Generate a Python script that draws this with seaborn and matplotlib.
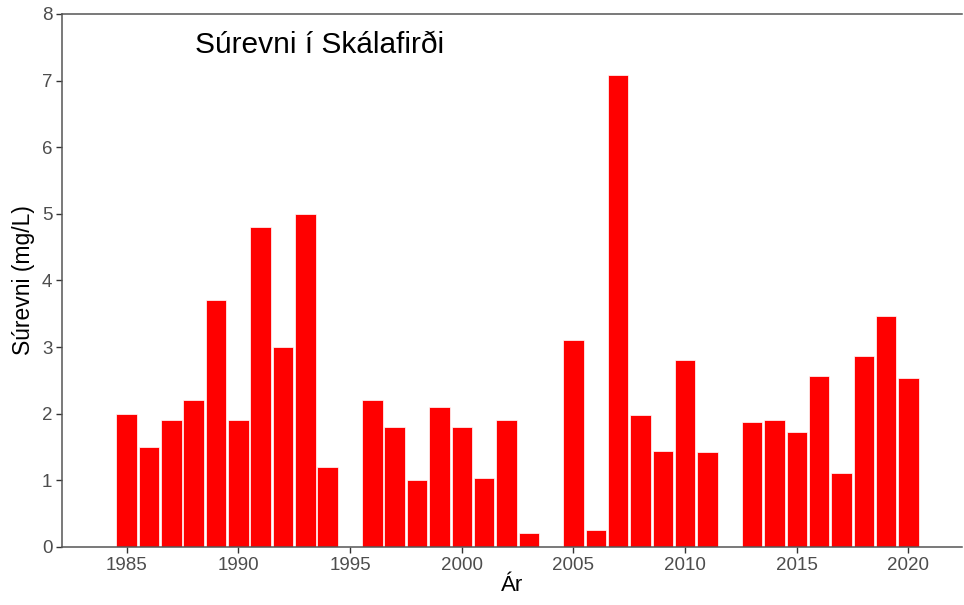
import numpy as np
import pandas as pd
import matplotlib
matplotlib.use("Agg")
import matplotlib.pyplot as plt
import seaborn as sns

# data (1995, 2004 and 2012 have no value)
years = [1985, 1986, 1987, 1988, 1989, 1990, 1991, 1992, 1993, 1994,
         1996, 1997, 1998, 1999, 2000, 2001, 2002, 2003,
         2005, 2006, 2007, 2008, 2009, 2010, 2011,
         2013, 2014, 2015, 2016, 2017, 2018, 2019, 2020]
surevni = [2.0, 1.5, 1.9, 2.2, 3.7, 1.9, 4.8, 3.0, 5.0, 1.2,
           2.2, 1.8, 1.0, 2.1, 1.8, 1.03, 1.91, 0.21,
           3.1, 0.25, 7.09, 1.98, 1.44, 2.81, 1.42,
           1.87, 1.90, 1.73, 2.56, 1.11, 2.86, 3.47, 2.53]
x_ticks = [1985, 1990, 1995, 2000, 2005, 2010, 2015, 2020]
y_ticks = [0, 1, 2, 3, 4, 5, 6, 7, 8]

df = pd.DataFrame({"Ár": years, "Súrevni": surevni})

sns.set_theme(style="white")
plt.rcParams["font.family"] = ["Liberation Sans", "DejaVu Sans"]

fig = plt.figure(figsize=(9.64, 6.05), dpi=100)
ax = fig.add_axes([0.0643, 0.0959, 0.9337, 0.8811])

sns.barplot(data=df, x="Ár", y="Súrevni", native_scale=True, width=0.92,
            color="#ff0000", saturation=1, edgecolor="white", linewidth=0.5,
            ax=ax)

ax.set_xlim(1982.1, 2022.4)
ax.set_ylim(0, 8)
ax.set_xticks(x_ticks)
ax.set_yticks(y_ticks)
ax.set_xticklabels([str(t) for t in x_ticks])
ax.set_yticklabels([str(t) for t in y_ticks])
ax.tick_params(axis="both", which="both", direction="out", length=4, width=1,
               color="#333333", labelcolor="#4d4d4d", labelsize=13.5,
               bottom=True, left=True, pad=3)

for side in ["top", "left", "bottom"]:
    ax.spines[side].set_visible(True)
    ax.spines[side].set_color("#555555")
    ax.spines[side].set_linewidth(1.1)
ax.spines["right"].set_visible(False)

ax.set_xlabel("Ár", fontsize=16, color="black", labelpad=1)
ax.set_ylabel("Súrevni (mg/L)", fontsize=16.5, color="black", labelpad=5)

ax.text(0.148, 0.942, "Súrevni í Skálafirði", transform=ax.transAxes,
        fontsize=21.5, color="black", ha="left", va="center")

fig.savefig("out.png", dpi=100, facecolor="white")
